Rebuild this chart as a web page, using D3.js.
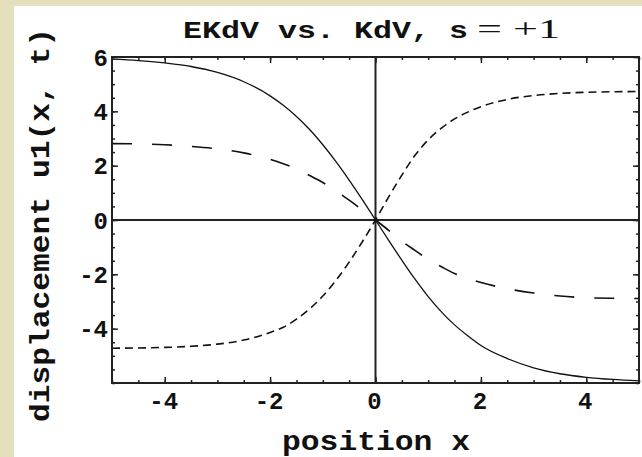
<!DOCTYPE html>
<html>
<head>
<meta charset="utf-8">
<script src="https://cdn.jsdelivr.net/npm/d3@7"></script>
<style>
  html, body { margin: 0; padding: 0; background: #e4dfbc; }
  svg { display: block; }
</style>
</head>
<body>
<svg id="svg" width="642" height="457"></svg>
<script>
// DATA
var xs = [-5, -4.5, -4, -3.5, -3, -2.5, -2, -1.75, -1.5, -1.25, -1, -0.75, -0.5, -0.25, 0,
          0.25, 0.5, 0.75, 1, 1.25, 1.5, 1.75, 2, 2.5, 3, 3.5, 4, 4.5, 5];
// solid curve (EKdV)
var ekdv = [5.92, 5.87, 5.78, 5.65, 5.43, 5.09, 4.57, 4.22, 3.81, 3.33, 2.77, 2.15, 1.47, 0.75, 0,
            -0.75, -1.48, -2.18, -2.82, -3.38, -3.86, -4.26, -4.62, -5.1, -5.44, -5.66, -5.79, -5.87, -5.92];
// long dashes (KdV)
var kdv = [2.81, 2.8, 2.77, 2.71, 2.62, 2.47, 2.23, 2.07, 1.88, 1.64, 1.38, 1.07, 0.73, 0.37, 0,
           -0.38, -0.78, -1.12, -1.45, -1.72, -1.97, -2.15, -2.3, -2.53, -2.69, -2.8, -2.86, -2.88, -2.89];
// short dashes
var third = [-4.72, -4.71, -4.69, -4.65, -4.57, -4.42, -4.14, -3.95, -3.65, -3.27, -2.8, -2.22, -1.55, -0.8, 0,
             0.85, 1.65, 2.38, 2.95, 3.38, 3.72, 3.97, 4.17, 4.44, 4.58, 4.66, 4.7, 4.72, 4.73];

var xTicks = [-4, -2, 0, 2, 4];
var yTicks = [-4, -2, 0, 2, 4, 6];
var xMinor = d3.range(-5, 5.01, 0.5);
var yMinor = d3.range(-6, 6.01, 0.5);

// SETUP
var svg = d3.select("#svg"),
  margin = { top: 57, right: 3, bottom: 74, left: 112 },
  width = 642 - margin.left - margin.right,
  height = 457 - margin.top - margin.bottom;

var x = d3.scaleLinear().domain([-5, 5]).range([0, width]),
  y = d3.scaleLinear().domain([-6, 6]).range([height, 0]);

var mono = "'Liberation Mono', 'Courier New', monospace";

svg.append("rect")
  .attr("width", 642).attr("height", 457)
  .attr("fill", "#e4dfbc");

svg.append("rect")
  .attr("x", 14).attr("y", 6)
  .attr("width", 628).attr("height", 451)
  .attr("fill", "#ffffff");

var g = svg.append("g")
  .attr("transform", "translate(" + margin.left + "," + margin.top + ")");

// ticks on all four sides, pointing inward
function ticks(axis, vals, size) {
  return axis.tickValues(vals).tickSize(size).tickFormat("");
}
function sides() {
  return [
    { a: d3.axisBottom(x), t: "translate(0," + height + ")", minor: xMinor, major: xTicks },
    { a: d3.axisTop(x), t: "translate(0,0)", minor: xMinor, major: xTicks },
    { a: d3.axisLeft(y), t: "translate(0,0)", minor: yMinor, major: yTicks },
    { a: d3.axisRight(y), t: "translate(" + width + ",0)", minor: yMinor, major: yTicks }
  ];
}
sides().forEach(function (s) {
  g.append("g").attr("class", "minor").attr("transform", s.t)
    .call(ticks(s.a, s.minor, -3));
});
sides().forEach(function (s) {
  g.append("g").attr("class", "major").attr("transform", s.t)
    .call(ticks(s.a, s.major, -6));
});
g.selectAll(".minor path, .major path").remove();
g.selectAll(".tick line").attr("stroke", "#222").attr("stroke-width", 1.5);

// zero lines
g.append("line")
  .attr("x1", x(0)).attr("x2", x(0)).attr("y1", 0).attr("y2", height)
  .attr("stroke", "#222").attr("stroke-width", 2);
g.append("line")
  .attr("x1", 0).attr("x2", width).attr("y1", y(0)).attr("y2", y(0))
  .attr("stroke", "#222").attr("stroke-width", 2);

// curves
var line = d3.line()
  .x(function (d) { return x(d[0]); })
  .y(function (d) { return y(d[1]); })
  .curve(d3.curveMonotoneX);

g.append("path")
  .datum(xs.map(function (v, i) { return [v, ekdv[i]]; }))
  .attr("fill", "none").attr("stroke", "#111").attr("stroke-width", 1.3)
  .attr("d", line);

g.append("path")
  .datum(xs.map(function (v, i) { return [v, kdv[i]]; }))
  .attr("fill", "none").attr("stroke", "#111").attr("stroke-width", 1.6)
  .attr("stroke-dasharray", "20,20")
  .attr("d", line);

g.append("path")
  .datum(xs.map(function (v, i) { return [v, third[i]]; }))
  .attr("fill", "none").attr("stroke", "#111").attr("stroke-width", 1.6)
  .attr("stroke-dasharray", "8,5")
  .attr("d", line);

// frame
g.append("rect")
  .attr("width", width).attr("height", height)
  .attr("fill", "none").attr("stroke", "#222").attr("stroke-width", 2);

// tick labels
g.selectAll(".xlab")
  .data(xTicks)
  .enter().append("text")
  .attr("class", "xlab")
  .attr("x", function (d) { return x(d) - 1; })
  .attr("y", height + 26)
  .attr("text-anchor", "middle")
  .attr("font-family", mono).attr("font-weight", "bold").attr("font-size", 24)
  .attr("fill", "#111")
  .text(function (d) { return d < 0 ? "-" + Math.abs(d) : d; });

g.selectAll(".ylab")
  .data(yTicks)
  .enter().append("text")
  .attr("class", "ylab")
  .attr("x", -4)
  .attr("y", function (d) { return y(d); })
  .attr("dy", "0.36em")
  .attr("text-anchor", "end")
  .attr("font-family", mono).attr("font-weight", "bold").attr("font-size", 24)
  .attr("fill", "#111")
  .text(function (d) { return d < 0 ? "-" + Math.abs(d) : d; });

// title
svg.append("text")
  .attr("x", 183).attr("y", 38)
  .attr("textLength", 285).attr("lengthAdjust", "spacingAndGlyphs")
  .attr("font-family", mono).attr("font-weight", "bold").attr("font-size", 24)
  .attr("fill", "#111")
  .text("EKdV vs. KdV, s");
svg.append("text")
  .attr("x", 477).attr("y", 38)
  .attr("textLength", 83).attr("lengthAdjust", "spacingAndGlyphs")
  .attr("font-family", "'Liberation Serif', serif").attr("font-size", 27)
  .attr("fill", "#111")
  .text("= +1");

// axis titles
svg.append("text")
  .attr("x", 282).attr("y", 450)
  .attr("textLength", 188).attr("lengthAdjust", "spacingAndGlyphs")
  .attr("font-family", mono).attr("font-weight", "bold").attr("font-size", 28)
  .attr("fill", "#111")
  .text("position x");

svg.append("text")
  .attr("transform", "translate(49,422) rotate(-90)")
  .attr("textLength", 394).attr("lengthAdjust", "spacingAndGlyphs")
  .attr("font-family", mono).attr("font-weight", "bold").attr("font-size", 28)
  .attr("fill", "#111")
  .text("displacement u1(x, t)");
</script>
</body>
</html>
